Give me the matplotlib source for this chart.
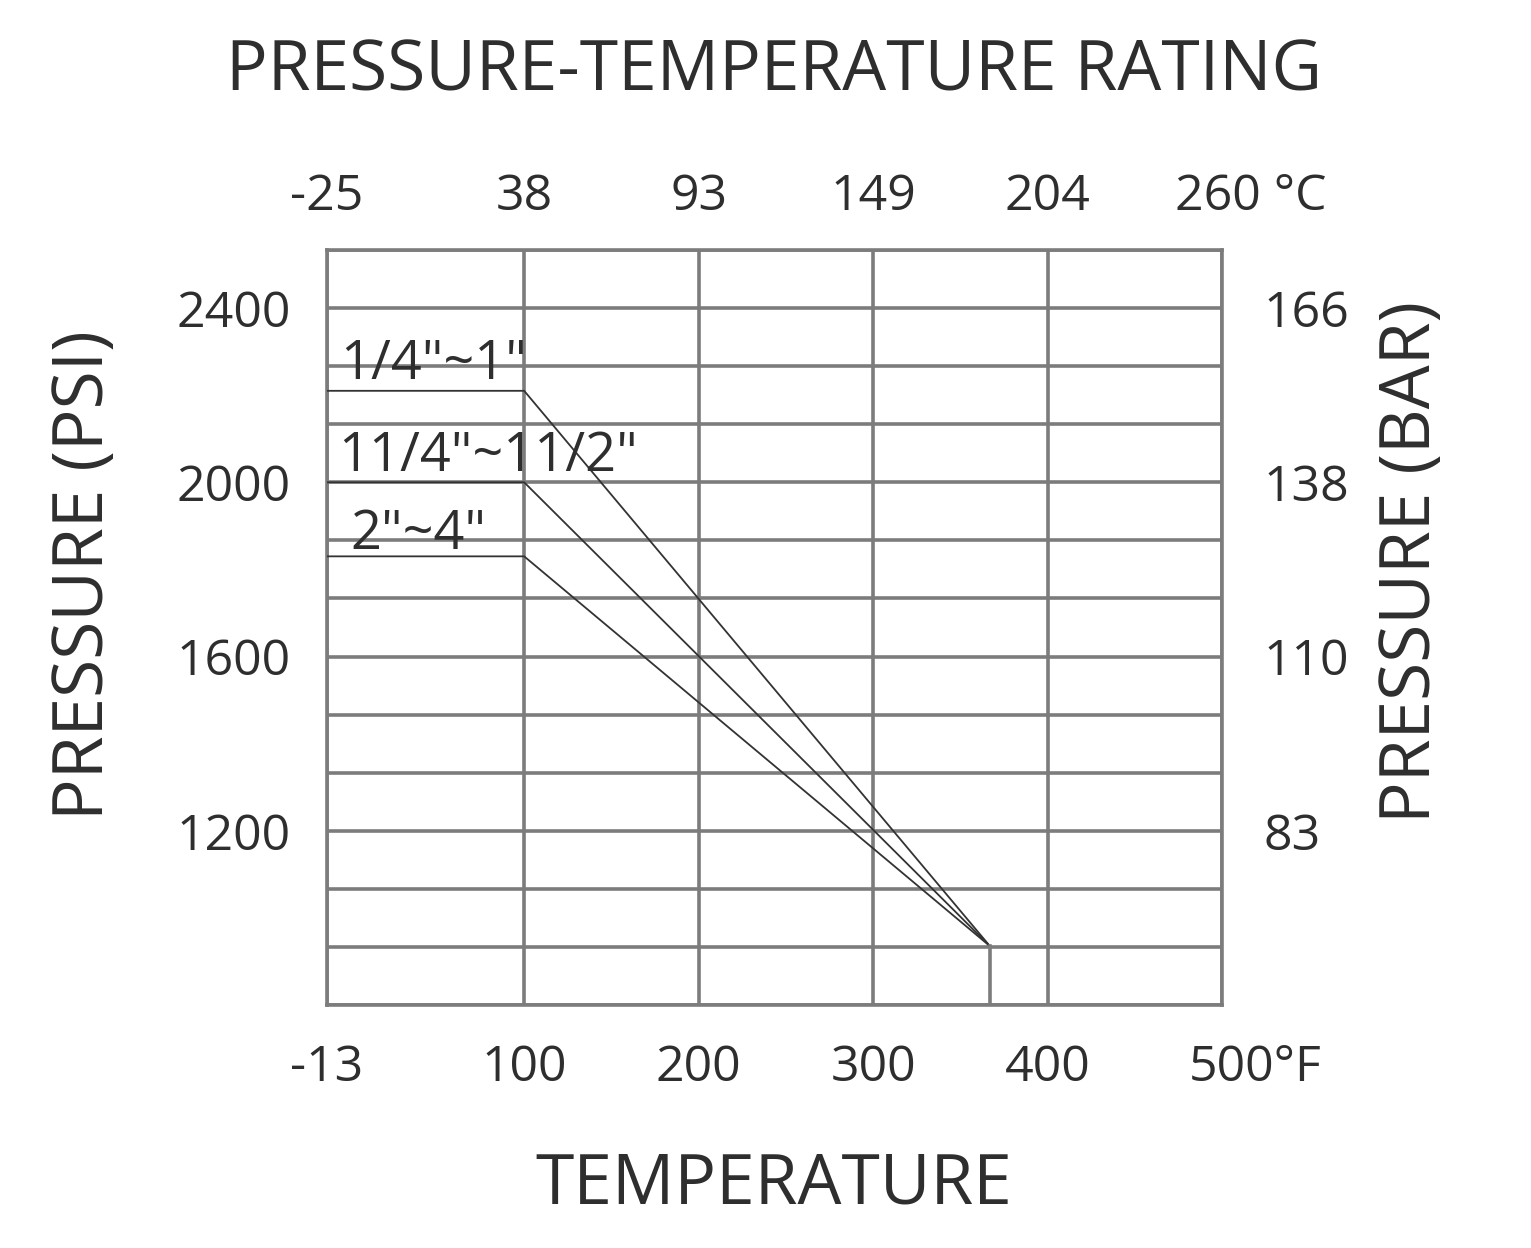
import matplotlib
matplotlib.use("Agg")
import matplotlib.pyplot as plt
from matplotlib.ticker import MultipleLocator

# ---------------------------------------------------------------- data
TEMP_F = [-13, 100, 367]                 # knee points of the rating curves
PSI_QUARTER_TO_1 = [2210, 2210, 935]     # 1/4"~1"
PSI_1Q_TO_1H = [2000, 2000, 935]         # 11/4"~11/2"
PSI_2_TO_4 = [1830, 1830, 935]           # 2"~4"
SERIES = [
    ('1/4"~1"', PSI_QUARTER_TO_1, (-5.5, 2237)),
    ('11/4"~11/2"', PSI_1Q_TO_1H, (-6.5, 2025)),
    ('2"~4"', PSI_2_TO_4, (0.5, 1846)),
]
DROP_F = [367, 367]
DROP_PSI = [935, 800]

F_TICKS = [-13, 100, 200, 300, 400, 500]
F_LABELS = ["-13", "100", "200", "300", "400", "500"]
C_LABELS = ["-25", "38", "93", "149", "204", "260"]
PSI_TICKS = [1200, 1600, 2000, 2400]
PSI_LABELS = ["1200", "1600", "2000", "2400"]
BAR_LABELS = ["83", "110", "138", "166"]

TXT = "#2e2e2e"
GRID = "#7c7c7c"
LINE = "#333333"
TICK_FS = 36
BIG_FS = 50

plt.rcParams["font.family"] = ["Open Sans", "DejaVu Sans"]

fig = plt.figure(figsize=(15.31, 12.48), dpi=100)
ax = fig.add_axes([0.2136, 0.1947, 0.5846, 0.605])
ax.set_xlim(-13, 500)
ax.set_ylim(800, 2400 + 400 / 3)

# grid
ax.set_xticks(F_TICKS, labels=F_LABELS[:-1] + [""])
ax.set_yticks(PSI_TICKS, labels=PSI_LABELS)
ax.yaxis.set_minor_locator(MultipleLocator(400 / 3))
ax.grid(True, which="both", color=GRID, lw=2.6)
ax.set_axisbelow(True)
for s in ax.spines.values():
    s.set_color(GRID)
    s.set_linewidth(2.6)

ax.tick_params(which="both", length=0, labelsize=TICK_FS, colors=TXT)
ax.tick_params(axis="x", pad=28)
ax.tick_params(axis="y", pad=26)

# rating lines
for label, psi, (tx, ty) in SERIES:
    ax.plot(TEMP_F, psi, color=LINE, lw=1.3, zorder=3)
    ax.text(tx, ty, label, fontsize=39, color=TXT, ha="left", va="baseline")
ax.plot(DROP_F, DROP_PSI, color=GRID, lw=2.6, zorder=3)

# secondary scales
top = ax.secondary_xaxis("top")
top.set_xticks(F_TICKS, labels=C_LABELS[:-1] + [""])
top.tick_params(length=0, labelsize=TICK_FS, colors=TXT, pad=20)
top.spines["top"].set_visible(False)

right = ax.secondary_yaxis("right")
right.set_yticks(PSI_TICKS, labels=BAR_LABELS)
right.tick_params(length=0, labelsize=TICK_FS, colors=TXT, pad=30)
right.spines["right"].set_visible(False)

# last labels carry the unit
ax.annotate(C_LABELS[-1] + " °C", xy=(500, 1), xycoords=("data", "axes fraction"),
            xytext=(-34, 20), textcoords="offset points",
            fontsize=TICK_FS, color=TXT, ha="left", va="bottom")
ax.annotate(F_LABELS[-1] + "°F", xy=(500, 0), xycoords=("data", "axes fraction"),
            xytext=(-24, -28), textcoords="offset points",
            fontsize=TICK_FS, color=TXT, ha="left", va="top")

# titles
fig.text(0.5056, 0.942, "PRESSURE-TEMPERATURE RATING", fontsize=BIG_FS,
         color=TXT, ha="center", va="center")
fig.text(0.5056, 0.05, "TEMPERATURE", fontsize=BIG_FS, color=TXT,
         ha="center", va="center")
fig.text(0.0555, 0.539, "PRESSURE (PSI)", fontsize=BIG_FS, color=TXT,
         rotation=90, ha="center", va="center")
fig.text(0.922, 0.55, "PRESSURE (BAR)", fontsize=BIG_FS, color=TXT,
         rotation=90, ha="center", va="center")

fig.savefig("out.png", dpi=100, facecolor="white")
